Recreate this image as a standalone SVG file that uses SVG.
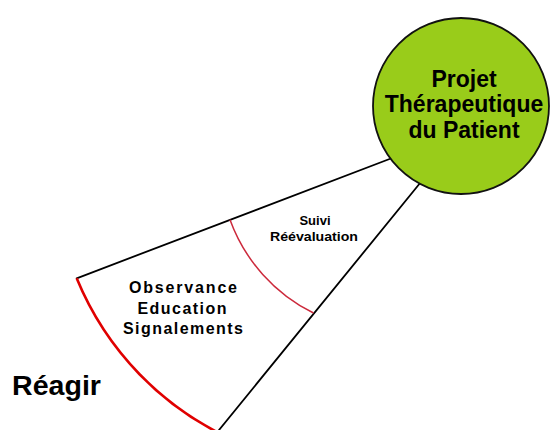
<svg xmlns="http://www.w3.org/2000/svg" width="552" height="430" viewBox="0 0 552 430">
<style>
.edge{fill:none;stroke:#000;stroke-width:1.8;stroke-linecap:round}
.arcO{fill:none;stroke:#e00000;stroke-width:2.6}
.arcI{fill:none;stroke:#cc2a3c;stroke-width:1.5}
.t{font-family:"Liberation Sans",Arial,sans-serif;font-weight:bold;fill:#000;text-anchor:middle}
</style>
<rect width="552" height="430" fill="#fff"/>
<g id="connectors">
<line class="edge" x1="76.7" y1="278.3" x2="400" y2="155"/>
<line class="edge" x1="219" y1="430" x2="425" y2="177"/>
<path class="arcO" d="M76.7,278.3 A303.3,303.3 0 0 0 233.5,440"/>
<path class="arcI" d="M230,219.7 A168,168 0 0 0 313.5,313"/>
</g>
<g id="patient">
<circle cx="461" cy="106" r="88" fill="#99cc1a" stroke="#111" stroke-width="1.8"/>
<text class="t" x="464" y="87" font-size="23">Projet</text>
<text class="t" x="464" y="112" font-size="23">Thérapeutique</text>
<text class="t" x="464" y="138" font-size="23">du Patient</text>
</g>
<g id="suivi">
<text class="t" x="315" y="225" font-size="13">Suivi</text>
<text class="t" x="314" y="241" font-size="13" textLength="88" lengthAdjust="spacingAndGlyphs">Réévaluation</text>
</g>
<g id="observance">
<text class="t" x="183" y="293" font-size="16" textLength="108" lengthAdjust="spacing">Observance</text>
<text class="t" x="182" y="314" font-size="16" textLength="89" lengthAdjust="spacing">Education</text>
<text class="t" x="183" y="334" font-size="16" textLength="120" lengthAdjust="spacing">Signalements</text>
</g>
<g id="reagir">
<text x="12" y="395" font-family="Liberation Sans,Arial,sans-serif" font-size="27" font-weight="bold" fill="#000" textLength="89" lengthAdjust="spacingAndGlyphs">Réagir</text>
</g>
</svg>
